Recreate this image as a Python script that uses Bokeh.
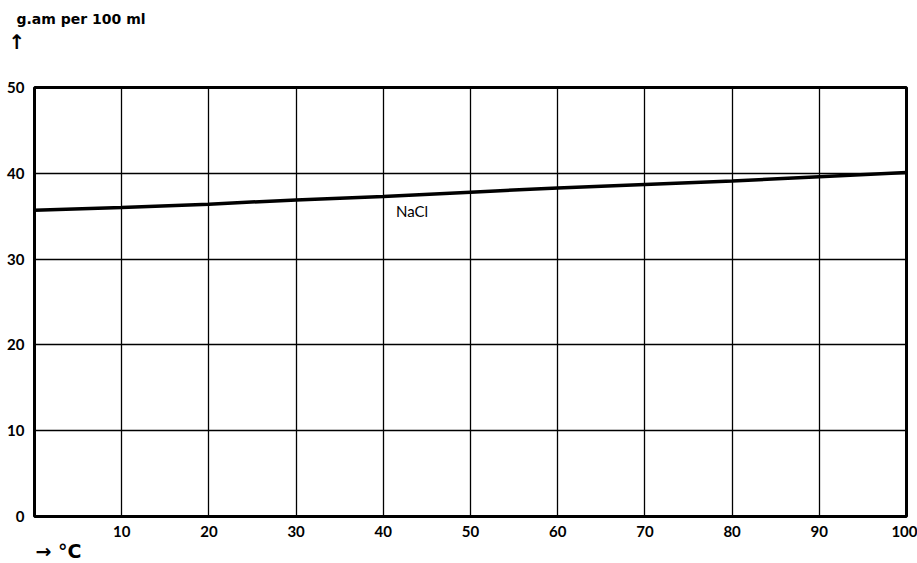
from bokeh.plotting import figure
from bokeh.models import Range1d, FixedTicker, Label, Title
from bokeh.embed import file_html
from bokeh.resources import INLINE

temps = [0, 10, 20, 30, 40, 50, 60, 70, 80, 90, 100]
nacl = [35.7, 36.0, 36.4, 36.9, 37.3, 37.8, 38.3, 38.7, 39.1, 39.6, 40.1]
x_ticks = [10, 20, 30, 40, 50, 60, 70, 80, 90, 100]
y_ticks = [0, 10, 20, 30, 40, 50]
y_title = "g.am per 100 ml"
x_title = "→ °C"
series_name = "NaCl"

FONT = "Lato"

p = figure(width=917, height=563, output_backend="svg", toolbar_location=None,
           x_range=Range1d(0, 100), y_range=Range1d(0, 50),
           min_border_left=34, min_border_right=11, min_border_top=87, min_border_bottom=44)

p.outline_line_color = "black"
p.outline_line_width = 3
p.background_fill_color = "white"
p.border_fill_color = "white"

for ax in (p.xaxis[0], p.yaxis[0]):
    ax.axis_line_color = None
    ax.major_tick_line_color = None
    ax.minor_tick_line_color = None
    ax.major_label_text_font = FONT
    ax.major_label_text_font_style = "bold"
    ax.major_label_text_font_size = "15px"
    ax.major_label_text_color = "black"

p.xaxis[0].ticker = FixedTicker(ticks=x_ticks)
p.yaxis[0].ticker = FixedTicker(ticks=y_ticks)
p.xaxis[0].major_label_standoff = 3
p.yaxis[0].major_label_standoff = 4

p.xgrid[0].ticker = FixedTicker(ticks=x_ticks)
p.ygrid[0].ticker = FixedTicker(ticks=y_ticks)
for g in (p.xgrid[0], p.ygrid[0]):
    g.grid_line_color = "black"
    g.grid_line_width = 1.3
    g.grid_line_alpha = 1.0

p.line(temps, nacl, line_color="black", line_width=3.5)

p.add_layout(Label(x=43.3, y=35.6, text=series_name, text_font=FONT, text_font_size="15px",
                   text_align="center", text_baseline="middle", text_color="black"))

# panels above the frame, from the frame outwards: invisible spacer, up arrow, y title
p.add_layout(Title(text=".", text_color="white", text_font_size="10px",
                   align="left", standoff=24), "above")
p.add_layout(Title(text="↑", text_font="DejaVu Sans", text_font_style="bold", text_font_size="20px",
                   text_color="black", align="left", offset=-26, standoff=0), "above")
p.title.text = y_title
p.title.text_font = "DejaVu Sans"
p.title.text_font_size = "14px"
p.title.text_font_style = "bold"
p.title.text_color = "black"
p.title.align = "left"
p.title.offset = -18
p.title.standoff = 2

p.add_layout(Title(text=x_title, text_font="DejaVu Sans", text_font_style="bold",
                   text_color="black", text_font_size="19px", align="left", offset=1,
                   standoff=0, vertical_align="top"), "below")

open("out.html", "w").write(file_html(p, INLINE))
